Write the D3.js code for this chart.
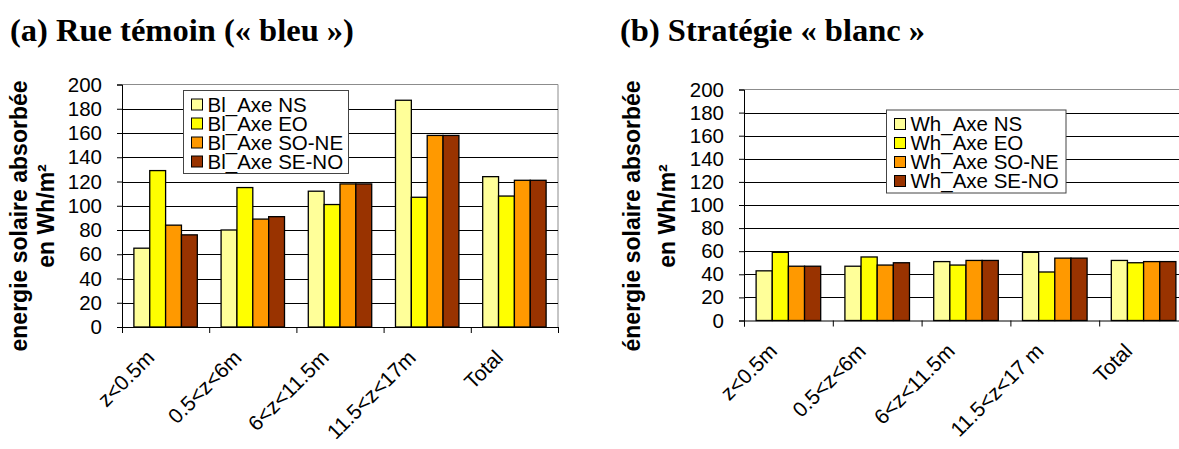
<!DOCTYPE html>
<html>
<head>
<meta charset="utf-8">
<script src="https://cdn.jsdelivr.net/npm/d3@7"></script>
<style>
  html, body { margin: 0; padding: 0; background: #fff; }
  svg { display: block; }
</style>
</head>
<body>
<svg id="chart" width="1179" height="449"></svg>
<script>
// ---------- DATA ----------
const categoriesBleu = ["z<0.5m", "0.5<z<6m", "6<z<11.5m", "11.5<z<17m", "Total"];
const categoriesBlanc = ["z<0.5m", "0.5<z<6m", "6<z<11.5m", "11.5<z<17 m", "Total"];
const seriesBleu = ["Bl_Axe NS", "Bl_Axe EO", "Bl_Axe SO-NE", "Bl_Axe SE-NO"];
const seriesBlanc = ["Wh_Axe NS", "Wh_Axe EO", "Wh_Axe SO-NE", "Wh_Axe SE-NO"];
// values per series, in category order
const bleuNS   = [65, 80, 112, 187, 124];
const bleuEO   = [129, 115, 101, 107, 108];
const bleuSONE = [84, 89, 118, 158, 121];
const bleuSENO = [76, 91, 118, 158, 121];
const blancNS   = [43, 47, 51, 59, 52];
const blancEO   = [59, 55, 48, 42, 50];
const blancSONE = [47, 48, 52, 54, 51];
const blancSENO = [47, 50, 52, 54, 51];
const yTicks = [0, 20, 40, 60, 80, 100, 120, 140, 160, 180, 200];
const seriesColors = ["#FFFF99", "#FFFF00", "#FF9900", "#993300"];
const titleA = "(a) Rue témoin (« bleu »)";
const titleB = "(b) Stratégie « blanc »";
const yTitleA = ["energie solaire absorbée", "en Wh/m²"];
const yTitleB = ["énergie solaire absorbée", "en Wh/m²"];

// ---------- DRAW ----------
const svg = d3.select("#chart");
const SANS = "'Liberation Sans', Arial, sans-serif";
const SERIF = "'Liberation Serif', 'Times New Roman', serif";

function drawChart(cfg) {
  const g = svg.append("g");
  const n = cfg.categories.length;
  const x = d3.scaleBand().domain(cfg.categories)
    .range([cfg.x0, cfg.x1]).paddingInner(1.5 / 5.5).paddingOuter(0.75 / 5.5);
  const xs = d3.scaleBand().domain(d3.range(cfg.series.length)).range([0, x.bandwidth()]);
  const y = d3.scaleLinear().domain([0, 200]).range([cfg.y0, cfg.y1]);

  // title
  g.append("text").attr("x", cfg.titleX).attr("y", cfg.titleY)
    .attr("font-family", SERIF).attr("font-weight", "bold").attr("font-size", 32.5)
    .attr("fill", "#000").text(cfg.title);

  // plot border (top/right)
  g.append("path")
    .attr("d", `M${cfg.x0},${y(200)}H${cfg.x1}V${y(0)}`)
    .attr("fill", "none").attr("stroke", "#8c8c8c").attr("stroke-width", 1);

  // gridlines
  g.selectAll("line.grid").data(yTicks.filter(t => t > 0 && t < 200)).join("line")
    .attr("class", "grid")
    .attr("x1", cfg.x0).attr("x2", cfg.x1)
    .attr("y1", d => Math.round(y(d)) + 0.5).attr("y2", d => Math.round(y(d)) + 0.5)
    .attr("stroke", "#000").attr("stroke-width", 1);

  // bars
  const rows = cfg.categories.map((c, i) => ({cat: c, vals: cfg.values.map(v => v[i])}));
  const grp = g.selectAll("g.cat").data(rows).join("g")
    .attr("transform", d => `translate(${x(d.cat)},0)`);
  grp.selectAll("rect").data(d => d.vals.map((v, k) => ({v, k}))).join("rect")
    .attr("x", d => xs(d.k)).attr("width", xs.bandwidth())
    .attr("y", d => y(d.v)).attr("height", d => y(0) - y(d.v))
    .attr("fill", d => seriesColors[d.k]).attr("stroke", "#000").attr("stroke-width", 1.3);

  // y axis
  const ya = g.append("g").attr("transform", `translate(${cfg.x0},0)`)
    .call(d3.axisLeft(y).tickValues(yTicks).tickSize(5).tickPadding(15));
  ya.select(".domain").attr("stroke", "#000");
  ya.selectAll("text").attr("font-family", SANS).attr("font-size", 20.5).attr("fill", "#000");

  // x axis (ticks at category boundaries)
  const xb = d3.scaleLinear().domain([0, n]).range([cfg.x0, cfg.x1]);
  const xa = g.append("g").attr("transform", `translate(0,${y(0)})`)
    .call(d3.axisBottom(xb).tickValues(d3.range(n + 1)).tickFormat("").tickSize(6).tickSizeOuter(6));
  xa.select(".domain").attr("stroke", "#000");

  // x labels
  g.selectAll("text.xl").data(cfg.categories).join("text")
    .attr("class", "xl")
    .attr("transform", d => `translate(${x(d) + x.bandwidth() / 2 + cfg.lblDx},${y(0) + cfg.lblDy}) rotate(-45)`)
    .attr("text-anchor", "end")
    .attr("font-family", SANS).attr("font-size", 21).attr("fill", "#000")
    .text(d => d);

  // y title
  const cy = cfg.yTitleY;
  cfg.yTitle.forEach((t, i) => {
    g.append("text")
      .attr("transform", `translate(${cfg.yTitleX[i]},${cy}) rotate(-90)`)
      .attr("text-anchor", "middle")
      .attr("font-family", SANS).attr("font-weight", "bold").attr("font-size", 23)
      .attr("fill", "#000").text(t);
  });

  // legend
  const L = cfg.legend;
  g.append("rect").attr("x", L.x).attr("y", L.y).attr("width", L.w).attr("height", L.h)
    .attr("fill", "#fff").attr("stroke", "#444").attr("stroke-width", 1);
  const le = g.selectAll("g.le").data(cfg.series).join("g")
    .attr("transform", (d, i) => `translate(${L.x + 8},${L.y + 14 + i * 19})`);
  le.append("rect").attr("x", 0).attr("y", -5.5).attr("width", 11).attr("height", 11)
    .attr("fill", (d, i) => seriesColors[i]).attr("stroke", "#000").attr("stroke-width", 1);
  le.append("text").attr("x", 16).attr("y", 7)
    .attr("font-family", SANS).attr("font-size", 20.5).attr("fill", "#000").text(d => d);
}

drawChart({
  categories: categoriesBleu, series: seriesBleu,
  values: [bleuNS, bleuEO, bleuSONE, bleuSENO],
  x0: 122, x1: 558, y0: 327, y1: 84.5,
  title: titleA, titleX: 10, titleY: 41,
  yTitle: yTitleA, yTitleX: [27, 54], yTitleY: 216,
  lblDx: -10, lblDy: 32,
  legend: {x: 183.5, y: 90.5, w: 165, h: 83}
});

drawChart({
  categories: categoriesBlanc, series: seriesBlanc,
  values: [blancNS, blancEO, blancSONE, blancSENO],
  x0: 744, x1: 1188, y0: 320.5, y1: 89.5,
  title: titleB, titleX: 620, titleY: 41,
  yTitle: yTitleB, yTitleX: [640, 675], yTitleY: 216,
  lblDx: -10, lblDy: 32,
  legend: {x: 886.5, y: 110, w: 179.5, h: 83}
});
</script>
</body>
</html>
